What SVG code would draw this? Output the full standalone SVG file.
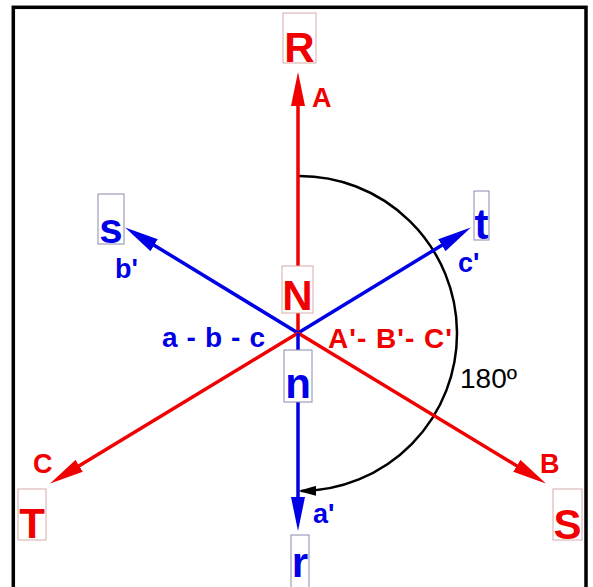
<svg xmlns="http://www.w3.org/2000/svg" width="593" height="587" viewBox="0 0 593 587">
<style>
  .red{stroke:#f00000;stroke-width:3.5;fill:none}
  .blue{stroke:#0000e6;stroke-width:3.5;fill:none}
  .arc{stroke:#000;stroke-width:2.5;fill:none}
  .big{font-family:"Liberation Sans",Arial,sans-serif;font-weight:bold;font-size:42px;text-anchor:middle}
  .sm{font-family:"Liberation Sans",Arial,sans-serif;font-weight:bold;font-size:27px}
  .mid{font-family:"Liberation Sans",Arial,sans-serif;font-weight:bold;font-size:28px}
  .rt{fill:#f00000}
  .bt{fill:#0000e6}
  .rbox{fill:#fff;stroke:#d8aaaa;stroke-width:1}
  .bbox{fill:#fff;stroke:#8a8ab0;stroke-width:1}
</style>
<defs>
  <marker id="ahr" markerUnits="userSpaceOnUse" markerWidth="34" markerHeight="14" refX="25" refY="7" orient="auto" viewBox="0 0 34 14">
    <path d="M0,0 L34,7 L0,14 z" fill="#f00000"/>
  </marker>
  <marker id="ahb" markerUnits="userSpaceOnUse" markerWidth="34" markerHeight="14" refX="25" refY="7" orient="auto" viewBox="0 0 34 14">
    <path d="M0,0 L34,7 L0,14 z" fill="#0000e6"/>
  </marker>
  <marker id="ahk" markerUnits="userSpaceOnUse" markerWidth="18" markerHeight="10" refX="15" refY="5" orient="auto" viewBox="0 0 18 10">
    <path d="M0,0 L18,5 L0,10 z" fill="#000"/>
  </marker>
</defs>
<rect x="13.3" y="7.3" width="572.7" height="620" fill="#fff" stroke="#000" stroke-width="3.5"/>
<g id="connectors">
  <path class="arc" d="M298,176 A157.5,157.5 0 0 1 301,491" marker-end="url(#ahk)"/>
  <line class="red" x1="298" y1="333" x2="298" y2="81" marker-end="url(#ahr)"/>
  <line class="blue" x1="298" y1="333" x2="132.8" y2="232.2" marker-end="url(#ahb)"/>
  <line class="blue" x1="298" y1="333" x2="463.2" y2="232.2" marker-end="url(#ahb)"/>
  <line class="red" x1="298" y1="333" x2="57.8" y2="478.8" marker-end="url(#ahr)"/>
  <line class="red" x1="298" y1="333" x2="538.2" y2="478.8" marker-end="url(#ahr)"/>
  <line class="blue" x1="298" y1="333" x2="298" y2="522" marker-end="url(#ahb)"/>
</g>
<g id="node-R"><rect class="rbox" x="283" y="13" width="33" height="50"/><text class="big rt" x="299.5" y="62">R</text></g>
<g id="node-N"><rect class="rbox" x="282" y="266" width="31" height="47"/><text class="big rt" x="297.5" y="310">N</text></g>
<g id="node-n"><rect class="bbox" x="284" y="350" width="28" height="52"/><text class="big bt" x="298" y="398">n</text></g>
<g id="node-s"><rect class="bbox" x="98" y="194" width="26" height="50"/><text class="big bt" x="111" y="243">s</text></g>
<g id="node-t"><rect class="bbox" x="474" y="191" width="15" height="49"/><text class="big bt" x="481.5" y="239">t</text></g>
<g id="node-T"><rect class="rbox" x="18" y="489" width="28" height="51"/><text class="big rt" x="32" y="538">T</text></g>
<g id="node-S"><rect class="rbox" x="553" y="489" width="29" height="51"/><text class="big rt" x="567.5" y="539">S</text></g>
<g id="node-r"><rect class="bbox" x="291" y="535" width="18" height="60"/><text class="big bt" x="300" y="577">r</text></g>
<g id="labels">
  <text class="sm rt" x="312" y="107">A</text>
  <text class="sm bt" x="115" y="278">b'</text>
  <text class="sm bt" x="458" y="272">c'</text>
  <text class="mid bt" x="162" y="347" textLength="103" lengthAdjust="spacing">a - b - c</text>
  <text class="mid rt" x="328" y="348" textLength="124" lengthAdjust="spacing">A'- B'- C'</text>
  <text x="460" y="388" font-family="Liberation Sans,Arial,sans-serif" font-size="28" fill="#000">180º</text>
  <text class="sm rt" x="33" y="473">C</text>
  <text class="sm rt" x="540" y="473">B</text>
  <text class="sm bt" x="313" y="523">a'</text>
</g>
</svg>
